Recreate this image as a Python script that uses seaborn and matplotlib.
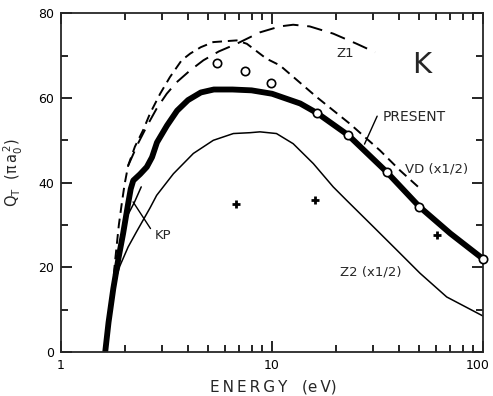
import numpy as np
import pandas as pd
import matplotlib
matplotlib.use("Agg")
import matplotlib.pyplot as plt
from matplotlib.ticker import FixedLocator, NullFormatter, MultipleLocator
from matplotlib.transforms import ScaledTranslation
import seaborn as sns

# ---- data ----
present_E = [1.62, 1.68, 1.77, 1.87, 1.97, 2.08, 2.14, 2.2, 2.37, 2.55, 2.7, 2.85, 3.18, 3.55,
             4.0, 4.6, 5.3, 6.5, 8.0, 10.0, 13.6, 16.4, 23.0, 35.0, 50.0, 70.0, 100.0]
present_Q = [0, 7, 15, 22, 28, 35, 38.5, 40.5, 42, 43.7, 46, 49.5, 53.5, 57,
             59.5, 61.3, 62, 62, 61.8, 61, 58.7, 56.4, 51.2, 42.5, 34.3, 28, 22]

vd_E = [1.62, 1.72, 1.80, 1.88, 1.94, 2.0, 2.08, 2.24, 2.45, 2.64, 2.95, 3.28, 3.73, 4.1,
        4.6, 5.27, 6.8, 7.6, 9.4, 10.9, 16.3, 23.4, 32.5, 40.4, 50.3]
vd_Q = [0, 10, 21, 30, 35, 39.5, 44, 48.5, 52.4, 56.3, 61, 64.9, 68.9, 70.5,
        72, 73.2, 73.6, 72.8, 69.3, 67.7, 60.2, 53.9, 47.6, 42.9, 38.6]

z1_E = [2.08, 2.32, 2.55, 2.84, 3.17, 3.53, 4.09, 4.73, 5.6, 6.8, 8.77, 10.9, 12.6,
        15.1, 19.5, 25.2, 30.8]
z1_Q = [44, 49.3, 53.3, 57.5, 61.0, 63.7, 66.5, 68.9, 71, 72.8, 75.5, 76.9, 77.3,
        76.9, 75.2, 72.8, 70.8]

z2_E = [1.62, 1.70, 1.80, 1.90, 2.08, 2.28, 2.64, 2.84, 3.41, 4.24, 5.27, 6.56, 7.87,
        8.77, 10.5, 12.6, 15.7, 19.5, 22.6, 30.2, 39.0, 50.3, 67.3, 100.0]
z2_Q = [0, 8, 16.5, 20.3, 24.8, 28.4, 34.0, 37.0, 42.1, 46.9, 50.0, 51.6, 51.8,
        52.0, 51.6, 49.2, 44.5, 39.0, 35.8, 29.6, 24.1, 18.6, 13.0, 8.5]

kp_E = [2.08, 2.23, 2.4]
kp_Q = [32.5, 35.4, 39]

circ_E = [5.47, 7.45, 9.86, 16.4, 22.9, 35.0, 49.8, 100.0]
circ_Q = [68.2, 66.3, 63.6, 56.4, 51.2, 42.4, 34.3, 21.9]

plus_E = [6.75, 16.0, 60.4]
plus_Q = [34.9, 35.8, 27.6]

xtick_vals = [1, 10, 100]
xtick_labels = ["1", "10", "100"]
ytick_vals = [0, 20, 40, 60, 80]

# ---- style ----
sns.set_style("ticks")
plt.rcParams['font.family'] = ['DejaVu Sans']

fig = plt.figure(figsize=(4.93, 3.96), dpi=100)
ax = fig.add_axes([61/493, 1 - 352/396, 422/493, (352 - 13.3)/396])

def curve(E, Q, **kw):
    df = pd.DataFrame({"E": E, "Q": Q})
    sns.lineplot(data=df, x="E", y="Q", estimator=None, sort=False, ax=ax,
                 color="black", legend=False, **kw)

curve(z2_E, z2_Q, lw=1.1)
curve(kp_E, kp_Q, lw=1.1)
curve(vd_E, vd_Q, lw=1.4, linestyle=(0, (5, 3)))
curve(z1_E, z1_Q, lw=1.4, linestyle=(0, (8, 4.5)))
curve(present_E, present_Q, lw=4.2, solid_capstyle="butt", solid_joinstyle="round")

sns.scatterplot(x=circ_E, y=circ_Q, ax=ax, marker="o", s=36, facecolor="white",
                edgecolor="black", linewidth=1.2, zorder=5, clip_on=False)
sns.scatterplot(x=plus_E, y=plus_Q, ax=ax, marker="+", s=34, color="black",
                linewidth=2.0, zorder=5)

ax.set_xscale("log")
ax.set_xlim(1, 100)
ax.set_ylim(0, 80)

ax.xaxis.set_major_locator(FixedLocator(xtick_vals))
ax.set_xticklabels(xtick_labels)
minor_x = [m * d for d in (1, 10) for m in range(2, 10)]
ax.xaxis.set_minor_locator(FixedLocator(minor_x))
ax.xaxis.set_minor_formatter(NullFormatter())
ax.set_yticks(ytick_vals)
ax.yaxis.set_minor_locator(MultipleLocator(10))

for s in ax.spines.values():
    s.set_visible(True)
    s.set_linewidth(1.3)
ax.tick_params(which="both", direction="in", top=True, right=True, width=1.2,
               labelsize=9, colors="black")
ax.tick_params(which="major", length=8)
ax.tick_params(which="minor", length=5)
ax.tick_params(axis="x", pad=5)
ax.tick_params(axis="y", pad=5)

ax.set_xlabel("E\u2009N\u2009E\u2009R\u2009G\u2009Y   (e\u2009V)", fontsize=11)
ax.xaxis.set_label_coords(0.502, -0.08)
ax.xaxis.label.set_va("top")
ax.set_ylabel(r"$\mathregular{Q_T}$  $\mathregular{(\pi\, a_0^{\,2})}$", fontsize=10.5)
ax.yaxis.set_label_coords(-0.085, 0.53)

# annotations
ax.text(51.2, 67.7, "K", fontsize=21, ha="center", va="center")
ax.text(22.2, 70.5, "Z1", fontsize=9.5, ha="center", va="center")
ax.text(33.6, 55.5, "PRESENT", fontsize=10, ha="left", va="center")
ax.annotate("", xy=(27.1, 48.5), xytext=(31.9, 56.3),
            arrowprops=dict(arrowstyle="-", lw=1.0, color="black"))
ax.text(42.7, 43.3, "VD (x1/2)", fontsize=9.5, ha="left", va="center")
ax.text(21.0, 18.9, "Z2 (x1/2)", fontsize=9.5, ha="left", va="center")
ax.text(2.79, 27.6, "KP", fontsize=9.5, ha="left", va="center")
ax.annotate("", xy=(2.16, 36.0), xytext=(2.70, 28.6),
            arrowprops=dict(arrowstyle="-", lw=1.0, color="black"))

# nudge the "100" label slightly left so it stays inside the canvas
for t in ax.get_xticklabels():
    if t.get_text() == "100":
        t.set_transform(t.get_transform() + ScaledTranslation(-4/72, 0, fig.dpi_scale_trans))

fig.savefig("out.png", dpi=100)
